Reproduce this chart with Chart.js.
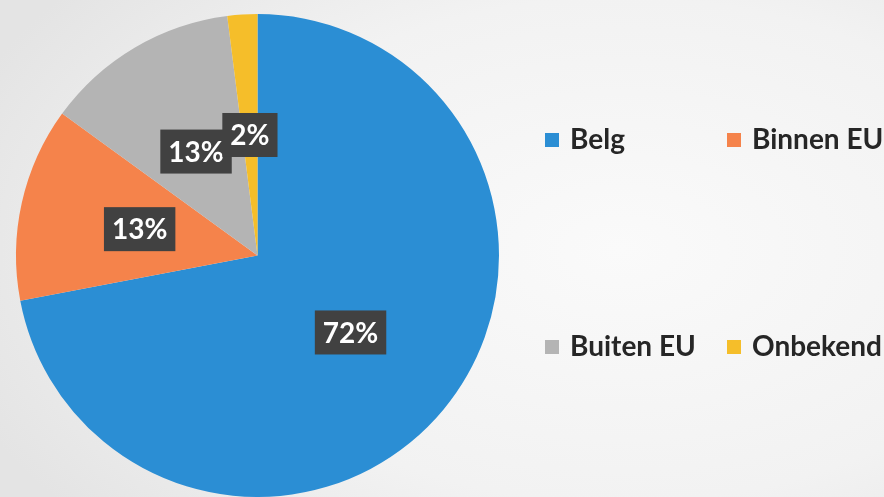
<!DOCTYPE html>
<html>
<head>
<meta charset="utf-8">
<script src="https://cdn.jsdelivr.net/npm/chart.js@4"></script>
<style>
  html, body { margin: 0; padding: 0; }
  body {
    width: 884px; height: 497px; overflow: hidden;
    background: radial-gradient(ellipse 700px 420px at 620px 250px, #fafafa 0%, #f2f2f2 60%, #e4e4e4 100%);
  }
  #wrap { position: relative; width: 884px; height: 497px; }
</style>
</head>
<body>
<div id="wrap"><canvas id="pieChart" width="884" height="497"></canvas></div>
<script>
// data
const categories = ["Belg", "Binnen EU", "Buiten EU", "Onbekend"];
const shares = [72, 13, 13, 2];
const sliceColors = ["#2b8ed4", "#f5834b", "#b4b4b4", "#f5be2a"];

const sliceLabels = {
   id: "sliceLabels",
   afterDatasetsDraw(chart) {
      const ctx = chart.ctx;
      const meta = chart.getDatasetMeta(0);
      ctx.save();
      ctx.font = "bold 28px Lato";
      ctx.textAlign = "center";
      ctx.textBaseline = "middle";
      meta.data.forEach(function (arc, i) {
         const mid = (arc.startAngle + arc.endAngle) / 2;
         const r = arc.outerRadius * 0.5;
         const x = arc.x + Math.cos(mid) * r;
         const y = arc.y + Math.sin(mid) * r;
         const txt = shares[i] + "%";
         const w = ctx.measureText(txt).width + 16;
         const h = 44;
         ctx.fillStyle = "#414141";
         ctx.fillRect(x - w / 2, y - h / 2, w, h);
         ctx.fillStyle = "#ffffff";
         ctx.fillText(txt, x, y + 1);
      });
      ctx.restore();
   },
};

const sideLegend = {
   id: "sideLegend",
   afterDraw(chart) {
      const ctx = chart.ctx;
      const cols = [545, 727];
      const rows = [139, 346];
      ctx.save();
      ctx.font = "bold 28px Lato";
      ctx.textBaseline = "middle";
      categories.forEach(function (name, i) {
         const x = cols[i % 2];
         const y = rows[Math.floor(i / 2)];
         ctx.fillStyle = sliceColors[i];
         ctx.fillRect(x, y - 6, 14, 14);
         ctx.fillStyle = "#262626";
         ctx.fillText(name, x + 25, y + 1);
      });
      ctx.restore();
   },
};

const piechart = document.getElementById("pieChart").getContext("2d");

const pieChart = new Chart(piechart, {
   type: "pie",
   data: {
      labels: categories,
      datasets: [
         {
            data: shares,
            backgroundColor: sliceColors,
            borderWidth: 0,
         },
      ],
   },
   options: {
      responsive: false,
      animation: false,
      layout: {
         padding: { left: 15, right: 384, top: 14, bottom: 0 },
      },
      plugins: {
         legend: { display: false },
         tooltip: { enabled: false },
      },
   },
   plugins: [sliceLabels, sideLegend],
});
</script>
</body>
</html>
